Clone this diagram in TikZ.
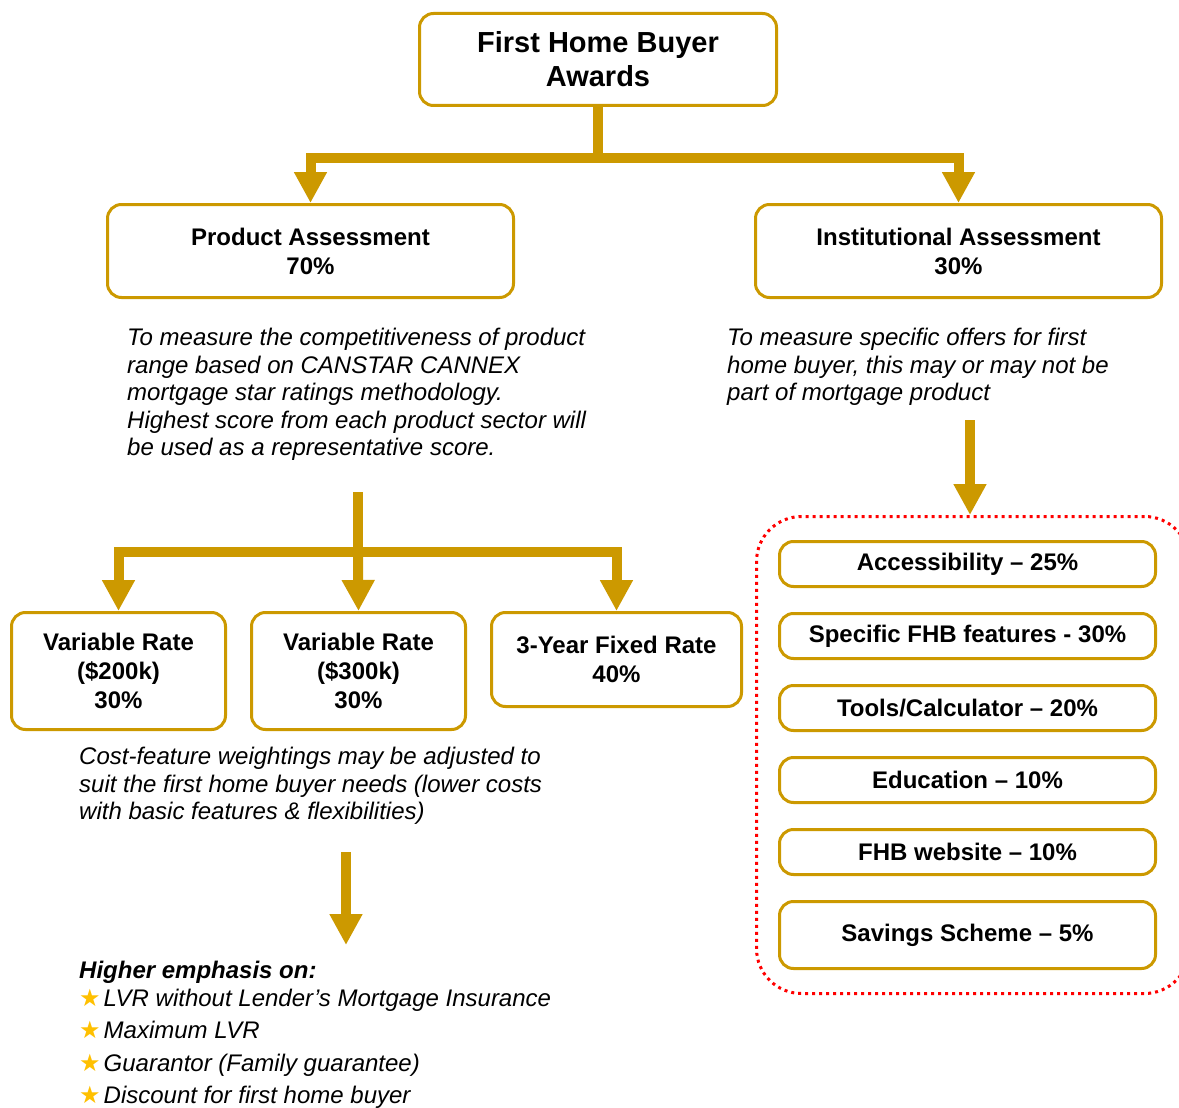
\documentclass[tikz,border=0pt]{standalone}
\usepackage{fontspec}
\setmainfont{Liberation Sans}
\newfontfamily\symbolfont{DejaVu Sans}
\usepackage{xcolor}
\usetikzlibrary{arrows.meta,positioning}
\definecolor{gold}{HTML}{CC9900}
\definecolor{stargold}{HTML}{FFC000}
\newcommand{\titletext}{\fontsize{29}{34}\selectfont\bfseries}
\newcommand{\boxtext}{\fontsize{24}{29}\selectfont\bfseries}
\newcommand{\desctext}{\fontsize{24}{27.5}\selectfont\itshape}
\newcommand{\starbullet}{{\color{stargold}\symbolfont\fontsize{24}{24}\selectfont ★}\hspace{3pt}}

\begin{document}
\begin{tikzpicture}[
  x=1pt,y=-1pt,
  box/.style={draw=gold,line width=3pt,rounded corners=14pt,fill=white,align=center,font=\boxtext},
  item/.style={box,minimum width=376pt,minimum height=45pt},
  group/.style={draw=red,line width=3pt,dash pattern=on 3pt off 4pt,rounded corners=45pt},
  desc/.style={anchor=north west,inner sep=0pt,align=left,font=\desctext},
  bar/.style={draw=gold,line width=10pt},
  arr/.style={bar,-{Triangle[width=31pt,length=31pt]}}
]
\useasboundingbox[fill=white] (0,0) rectangle (1179,1108);
\node[box,font=\titletext,minimum width=357pt,minimum height=92pt] (fhb) at (598,59.5) {First Home Buyer\\Awards};
\node[box,minimum width=406pt,minimum height=93pt] (prod) at (310.5,251) {Product Assessment\\70\%};
\node[box,minimum width=406pt,minimum height=93pt] (inst) at (958.5,251) {Institutional Assessment\\30\%};
\coordinate (split1) at (598,158);
\draw[bar] (fhb.south) -- (split1);
\draw[arr] (split1) -| (prod.north);
\draw[arr] (split1) -| (inst.north);
\node[desc] (proddesc) at (127,328) {To measure the competitiveness of product\\range based on CANSTAR CANNEX\\mortgage star ratings methodology.\\Highest score from each product sector will\\be used as a representative score.};
\node[desc] (instdesc) at (727,328) {To measure specific offers for first\\home buyer, this may or may not be\\part of mortgage product};
\node[box,minimum width=214pt,minimum height=117pt] (var200) at (118.5,671) {Variable Rate\\(\$200k)\\30\%};
\node[box,minimum width=214pt,minimum height=117pt,right=23pt of var200] (var300) {Variable Rate\\(\$300k)\\30\%};
\node[box,minimum width=250pt,minimum height=94pt,right=23pt of var300.north east,anchor=north west] (fixed3) {3-Year Fixed Rate\\40\%};
\coordinate (stem2) at (358,492);
\coordinate (split2) at (358,552);
\draw[bar] (stem2) -- (split2);
\draw[arr] (split2) -| (var200.north);
\draw[arr] (split2) -- (var300.north);
\draw[arr] (split2) -| (fixed3.north);
\node[desc] (costdesc) at (79,747) {Cost-feature weightings may be adjusted to\\suit the first home buyer needs (lower costs\\with basic features \& flexibilities)};
\coordinate (cost0) at (346,852);
\coordinate (cost1) at (346,945);
\draw[arr] (cost0) -- (cost1);
\node[desc] (emph) at (79,961) {\textbf{Higher emphasis on:}\\
  \starbullet LVR without Lender’s Mortgage Insurance\\[5pt]
  \starbullet Maximum LVR\\[5pt]
  \starbullet Guarantor (Family guarantee)\\[5pt]
  \starbullet Discount for first home buyer};
\node[group,minimum width=433pt,minimum height=477pt] (offers) at (973,755) {};
\coordinate (inst0) at (970,420);
\draw[arr] (inst0) -- (inst0 |- offers.north);
\node[item] (access) at (967.5,564) {Accessibility -- 25\%};
\node[item,below=24pt of access] (fhbfeat) {Specific FHB features - 30\%};
\node[item,below=24pt of fhbfeat] (tools) {Tools/Calculator -- 20\%};
\node[item,below=24pt of tools] (edu) {Education -- 10\%};
\node[item,below=24pt of edu] (website) {FHB website -- 10\%};
\node[item,below=24pt of website,minimum height=67pt] (savings) {Savings Scheme -- 5\%};
\end{tikzpicture}
\end{document}
